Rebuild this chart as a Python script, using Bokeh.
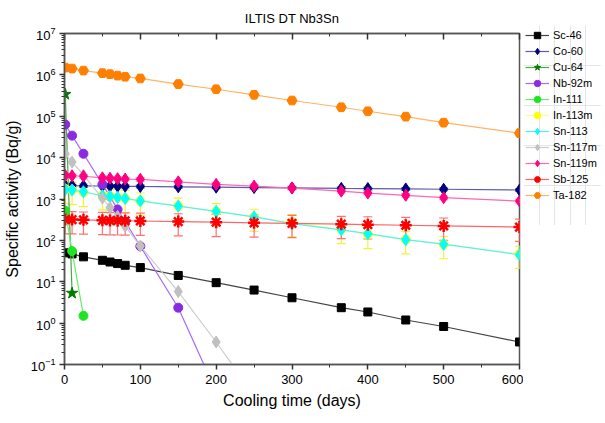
from bokeh.plotting import figure
from bokeh.layouts import row, column
from bokeh.models import (ColumnDataSource, Whisker, TeeHead, Legend, LegendItem,
                          LinearAxis, SingleIntervalTicker, LogTicker, Range1d,
                          CustomJSTickFormatter, Spacer)
from bokeh.embed import file_html
from bokeh.resources import INLINE

# ---------------- data ----------------
days = [1, 10, 25, 50, 60, 70, 80, 100, 150, 200, 250, 300, 365, 400, 450, 500, 600]

sc46 = [50, 47, 40, 33, 30, 27.5, 25, 22, 14.2, 9.5, 6.3, 4.1, 2.36, 1.86, 1.19, 0.83, 0.35]
co60 = [2100, 2090, 2080, 2060, 2050, 2040, 2030, 2010, 1970, 1930, 1890, 1860, 1810, 1790, 1750, 1720, 1650]
cu64_days = [1, 10]
cu64 = [3.4e5, 5.3]
nb92m_days = [1, 10, 25, 50, 60, 70, 80, 100, 150, 200]
nb92m = [6.3e4, 3.4e4, 1.24e4, 2260, 1150, 560, 285, 72, 2.36, 0.022]
in111_days = [1, 10, 25]
in111 = [520, 55, 1.5]
in113m = [1750, 1620, 1460, 1220, 1160, 1090, 1040, 900, 680, 500, 365, 270, 185, 140, 105, 80, 47]
sn113 = [1700, 1650, 1500, 1200, 1150, 1090, 1030, 900, 675, 500, 368, 253, 180, 145, 104, 81, 45]
sn117m_days = [1, 10, 25, 50, 60, 70, 80, 100, 150, 200, 250]
sn117m = [1.24e4, 7800, 3800, 1050, 620, 380, 220, 73, 5.8, 0.35, 0.018]
sn119m = [3700, 3650, 3550, 3250, 3180, 3100, 3030, 2990, 2600, 2260, 2050, 1840, 1550, 1390, 1230, 1075, 890]
sb125 = [320, 318, 313, 305, 302, 300, 298, 294, 284, 275, 266, 258, 246, 240, 232, 224, 210]
ta182 = [1.5e6, 1.42e6, 1.27e6, 1.1e6, 1.04e6, 9.6e5, 9.0e5, 8.2e5, 6.0e5, 4.5e5, 3.3e5, 2.4e5, 1.65e5, 1.32e5, 9.8e4, 7.0e4, 3.9e4]

rel_err = {"Co-60": 0.08, "In-113m": 0.55, "Sn-119m": 0.10, "Sb-125": 0.55}

x_ticks_interval = 100
title_text = "ILTIS DT Nb3Sn"
x_label = "Cooling time (days)"
y_label = "Specific activity (Bq/g)"

# name, x, y, marker, size, fill, line colour of connecting line, error-bar colour
series = [
    ("Sc-46", days, sc46, "square", 8, "#000000", "#444444", None),
    ("Co-60", days, co60, "diamond", 12, "#000080", "#5c5ca8", "#8080c0"),
    ("Cu-64", cu64_days, cu64, "star", 12, "#007a00", "#4aa84a", None),
    ("Nb-92m", nb92m_days, nb92m, "circle", 9, "#8a2be2", "#a868ff", None),
    ("In-111", in111_days, in111, "circle", 9, "#1ee61e", "#66ee66", None),
    ("In-113m", days, in113m, "circle", 9, "#ffff00", "#ffff88", "#f2f23a"),
    ("Sn-113", days, sn113, "diamond", 12, "#00ffff", "#55f0f0", None),
    ("Sn-117m", sn117m_days, sn117m, "diamond", 12, "#c0c0c0", "#cccccc", None),
    ("Sn-119m", days, sn119m, "diamond", 12, "#ff0080", "#ff66b3", "#ff99cc"),
    ("Sb-125", days, sb125, "asterisk", 12, "#ff0000", "#ff6666", "#ff7070"),
    ("Ta-182", days, ta182, "hex", 10, "#ff8000", "#ffb466", None),
]

FONT = "Liberation Sans"

p = figure(frame_width=455, frame_height=331, y_axis_type="log",
           x_range=Range1d(0, 600), y_range=Range1d(0.1, 1e7),
           output_backend="svg", toolbar_location=None,
           title=title_text,
           min_border_left=56, min_border_right=4, min_border_top=28, min_border_bottom=47)

p.title.align = "center"
p.title.text_font = FONT
p.title.text_font_style = "normal"
p.title.text_font_size = "13px"
p.title.text_color = "#000000"
if "standoff" in p.title.properties():
    p.title.standoff = 16

p.grid.visible = False
p.outline_line_color = "#555555"
p.outline_line_width = 1.5

xa = p.xaxis[0]
xa.ticker = SingleIntervalTicker(interval=x_ticks_interval, num_minor_ticks=2)
ya = p.yaxis[0]
ya.ticker = LogTicker(num_minor_ticks=10)
for ax in (xa, ya):
    ax.axis_line_color = "#555555"
    ax.axis_line_width = 1.5
    ax.major_tick_line_color = "#333333"
    ax.minor_tick_line_color = "#333333"
    ax.major_tick_line_width = 1.5
    ax.major_tick_out = 5
    ax.major_tick_in = 0
    ax.minor_tick_out = 3
    ax.minor_tick_in = 0
    ax.major_label_text_font = FONT
    ax.major_label_text_font_size = "13px"
    ax.major_label_text_color = "#000000"
    ax.axis_label_text_font = FONT
    ax.axis_label_text_font_size = "16px"
    ax.axis_label_text_font_style = "normal"
    ax.axis_label_text_color = "#000000"
    ax.major_label_standoff = 5
    ax.axis_label_standoff = 5
xa.axis_label = x_label
ya.axis_label = y_label
ya.major_label_standoff = 4
ya.axis_label_standoff = 7

# mirror axis on top (ticks inward, empty labels)
top = LinearAxis(ticker=SingleIntervalTicker(interval=x_ticks_interval, num_minor_ticks=2))
top.formatter = CustomJSTickFormatter(code="return '';")
top.axis_line_color = "#555555"
top.axis_line_width = 1.5
top.major_tick_line_color = "#333333"
top.minor_tick_line_color = "#333333"
top.major_tick_line_width = 1.5
top.major_tick_in = 6
top.major_tick_out = 0
top.minor_tick_in = 3
top.minor_tick_out = 0
top.major_label_standoff = 0
p.add_layout(top, "above")

# narrow figure right of the plot that carries the legend; its ranges lie
# outside all data so only the legend glyphs are visible there
leg_fig = figure(width=78, height=200, output_backend="svg", toolbar_location=None,
                 x_range=Range1d(-2, -1), y_range=Range1d(0, 1),
                 x_axis_location=None, y_axis_location=None,
                 min_border=0, min_border_left=0, min_border_right=0,
                 min_border_top=0, min_border_bottom=0)
leg_fig.outline_line_color = None


def draw(fig, src, marker, size, fill, lcol):
    lr = fig.line("x", "y", source=src, line_color=lcol, line_width=1.2)
    if marker == "asterisk":
        sr = fig.scatter("x", "y", source=src, marker="asterisk", size=size,
                         line_color=fill, line_width=2.5)
    else:
        sr = fig.scatter("x", "y", source=src, marker=marker, size=size,
                         fill_color=fill, line_color=fill, line_width=1)
    return [lr, sr]


items = []
for name, xs, ys, marker, size, fill, lcol, ecol in series:
    src = ColumnDataSource(dict(x=xs, y=ys))
    if ecol is not None:
        r = rel_err[name]
        src.data["upper"] = [v * (1 + r) for v in ys]
        src.data["lower"] = [v * (1 - r) for v in ys]
        w = Whisker(base="x", upper="upper", lower="lower", source=src,
                    line_color=ecol, line_width=1.2,
                    upper_head=TeeHead(size=9, line_color=ecol, line_width=1.2),
                    lower_head=TeeHead(size=9, line_color=ecol, line_width=1.2))
        p.add_layout(w)
    draw(p, src, marker, size, fill, lcol)
    rs = draw(leg_fig, src, marker, size, fill, lcol)
    items.append(LegendItem(label=name, renderers=rs))

legend = Legend(items=items, location="top_left")
legend.label_text_font = FONT
legend.label_text_font_size = "11px"
legend.label_text_color = "#000000"
legend.glyph_width = 24
legend.glyph_height = 16
legend.label_height = 16
legend.spacing = 0
legend.label_standoff = 4
legend.padding = 2
legend.margin = 0
legend.border_line_alpha = 0
legend.background_fill_alpha = 0
leg_fig.add_layout(legend, "center")

layout = row(p, column(Spacer(width=78, height=25), leg_fig))
open("out.html", "w").write(file_html(layout, INLINE))
